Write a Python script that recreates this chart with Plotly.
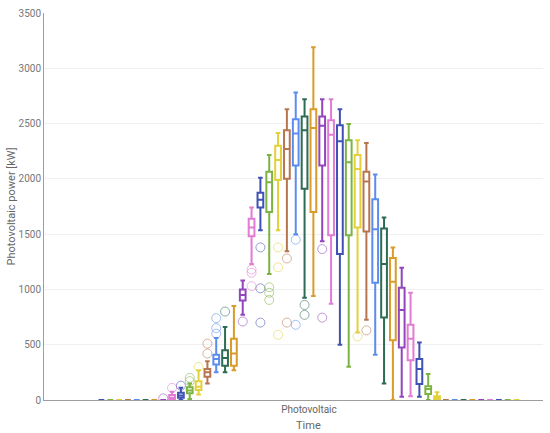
"""Half-hourly photovoltaic power box plot."""

import plotly.graph_objects as go

# half-hour slots of the day
slots = [f"{h:02d}:{m:02d}" for h in range(24) for m in (0, 30)]

# box statistics per slot, kW
lower = [0, 0, 0, 0, 0, 0, 0, 0, 0, 0, 10, 50, 150, 250, 250, 270,
         770, 1230, 1535, 1140, 1535, 1345, 1500, 925, 940, 1435, 870, 500,
         300, 610, 725, 410, 150, 0, 30, 35, 30, 0, 0,
         0, 0, 0, 0, 0, 0, 0, 0, 0]
q1 = [0, 0, 0, 0, 0, 0, 0, 0, 5, 20, 60, 90, 210, 320, 310, 310,
      900, 1480, 1740, 1700, 1990, 2000, 2120, 1910, 1700, 2120, 1490, 1320,
      1490, 1560, 1525, 1060, 745, 540, 475, 360, 145, 55, 0,
      0, 0, 0, 0, 0, 0, 0, 0, 0]
median = [0, 0, 0, 0, 0, 0, 0, 0, 20, 40, 85, 120, 250, 370, 380, 420,
          950, 1560, 1810, 1970, 2170, 2270, 2410, 2440, 2460, 2480, 2400, 2340,
          2150, 2090, 1975, 1545, 1230, 1070, 815, 555, 280, 100, 15,
          0, 0, 0, 0, 0, 0, 0, 0, 0]
q3 = [0, 0, 0, 0, 0, 0, 0, 0, 45, 65, 115, 170, 280, 410, 450, 555,
      1000, 1640, 1875, 2065, 2300, 2440, 2540, 2565, 2630, 2565, 2530, 2485,
      2350, 2215, 2065, 1815, 1550, 1285, 1015, 680, 370, 125, 35,
      0, 0, 0, 0, 0, 0, 0, 0, 0]
upper = [0, 0, 0, 0, 0, 0, 0, 0, 75, 110, 150, 270, 350, 560, 660, 850,
         1080, 1740, 2010, 2215, 2415, 2630, 2780, 2720, 3190, 2720, 2720, 2630,
         2495, 2350, 2325, 2040, 1650, 1380, 1195, 970, 520, 235, 70,
         0, 0, 0, 0, 0, 0, 0, 0, 0]
outliers = [[], [], [], [], [], [], [], [15], [110], [130], [170, 200], [300],
            [420, 510], [600, 650, 740], [800], [],
            [710], [1030, 1150, 1180], [700, 1010, 1380], [905, 970, 1020],
            [590, 1200, 1380], [700, 1280], [680, 1450], [770, 860], [],
            [745, 1365], [], [], [], [575], [630], [], [], [], [], [], [], [], [],
            [], [], [], [], [], [], [], [], []]

palette = ["#3F51B5", "#7CB342", "#E3D03B", "#B87650", "#5B8DEF",
           "#2E6B55", "#D99B2B", "#9146BD", "#E27BD3"]

fig = go.Figure()
for i, name in enumerate(slots):
    color = palette[i % len(palette)]
    # sample points only where there are outliers, an empty list drops the box
    pts = [outliers[i]] if outliers[i] else None
    fig.add_trace(go.Box(
        name=name,
        x=["Photovoltaic"],
        y=pts,
        q1=[q1[i]],
        median=[median[i]],
        q3=[q3[i]],
        lowerfence=[lower[i]],
        upperfence=[upper[i]],
        orientation="v",
        boxpoints="outliers" if pts else False,
        jitter=0,
        pointpos=0,
        whiskerwidth=0.8,
        line=dict(color=color, width=2),
        fillcolor="rgba(255,255,255,0)",
        marker=dict(symbol="circle-open", size=9, color=color, opacity=0.55,
                    line=dict(width=1)),
        showlegend=False,
    ))

fig.add_annotation(
    text="Time", x=0, xref="x", y=0, yref="paper", yanchor="top",
    yshift=-17, showarrow=False, font=dict(size=11, color="#666666"),
)

fig.update_layout(
    width=550,
    height=433,
    margin=dict(l=44, r=7, t=10, b=33),
    paper_bgcolor="white",
    plot_bgcolor="white",
    font=dict(family="Roboto", color="#666666"),
    boxmode="group",
    boxgap=0.2,
    boxgroupgap=0.35,
    showlegend=False,
    xaxis=dict(
        type="category",
        range=[-0.5, 0.4416],
        showgrid=False,
        showline=True,
        linecolor="#9e9e9e",
        ticks="",
        tickfont=dict(size=10, color="#666666"),
    ),
    yaxis=dict(
        range=[0, 3500],
        dtick=500,
        showgrid=True,
        gridcolor="#f0f0f0",
        zeroline=False,
        showline=True,
        linecolor="#9e9e9e",
        ticks="",
        tickfont=dict(size=10, color="#777777"),
        title=dict(text="Photovoltaic power [kW]",
                   font=dict(size=11, color="#666666"), standoff=0),
    ),
)

# drop the default page margin so the figure sits at the window's corner
fig.write_html(
    "out.html",
    config={"displayModeBar": False},
    post_script="document.body.style.margin = '0';",
)
